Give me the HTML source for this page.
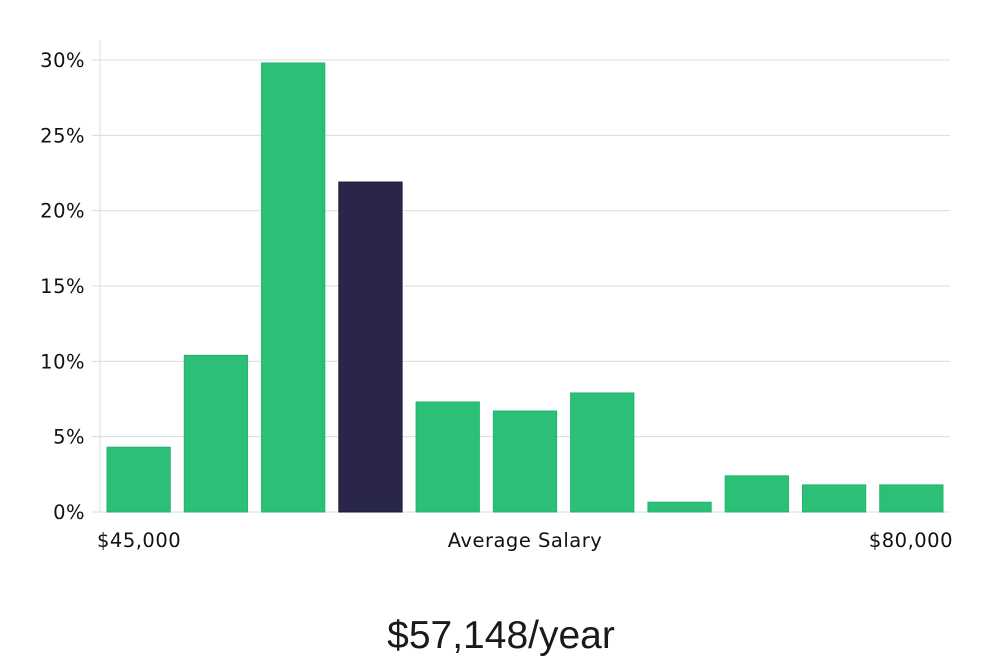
<!DOCTYPE html>
<html><head><meta charset="utf-8"><style>
body{margin:0;background:#fff;width:1000px;height:660px;overflow:hidden}
svg{font-family:"DejaVu Sans","Liberation Sans",sans-serif}
</style></head><body>
<svg id="c" width="1000" height="660"></svg>
<script>
const values=[4.3,10.4,29.8,21.9,7.3,6.7,7.9,0.65,2.4,1.8,1.8];
const highlight=[false,false,false,true,false,false,false,false,false,false,false];
const yTicks=[0,5,10,15,20,25,30];
const yTickLabels=["0%","5%","10%","15%","20%","25%","30%"];
const xLabels=["$45,000","Average Salary","$80,000"];
const svg=document.getElementById('c');
const NS="http://www.w3.org/2000/svg";
const x0=100,x1=950,yB=512,yT=60,yMax=30;
const y=v=>yB-(v/yMax)*(yB-yT);
const slot=(x1-x0)/values.length;
function mk(t,a,p){const e=document.createElementNS(NS,t);for(const k in a)e.setAttribute(k,a[k]);(p||svg).appendChild(e);return e;}
yTicks.forEach((t,i)=>{
 const g=mk('line',{x1:92,x2:x1,y1:y(t),y2:y(t),stroke:'#dcdcdc','stroke-width':1});
 
 
 const tx=mk('text',{x:85,y:y(t)+7,'text-anchor':'end','font-size':19.5,'letter-spacing':0.5,fill:'#111'});
 tx.textContent=yTickLabels[i];
 
 
});
const ax=mk('line',{x1:x0,x2:x0,y1:40,y2:yB,stroke:'#dcdcdc','stroke-width':1});


values.forEach((v,i)=>{
 const r=mk('rect',{x:x0+i*slot+7,y:y(v),width:slot-14,height:yB-y(v),fill:highlight[i]?'#29264a':'#2bbf77',stroke:highlight[i]?'#1c1a3a':'#25b36d','stroke-width':1});
 
 
});
const xl=[[97,'start'],[525,'middle'],[953,'end']];
xLabels.forEach((s,i)=>{
 const t=mk('text',{x:xl[i][0],y:547,'text-anchor':xl[i][1],'font-size':19.5,'letter-spacing':0.5,fill:'#111'});
 t.textContent=s;
 
 
});
const tt=mk('text',{x:501,y:648,'text-anchor':'middle','font-size':39,fill:'#1a1a1a','font-family':'"Liberation Sans",sans-serif'});
tt.textContent="$57,148/year";


</script>
</body></html>
